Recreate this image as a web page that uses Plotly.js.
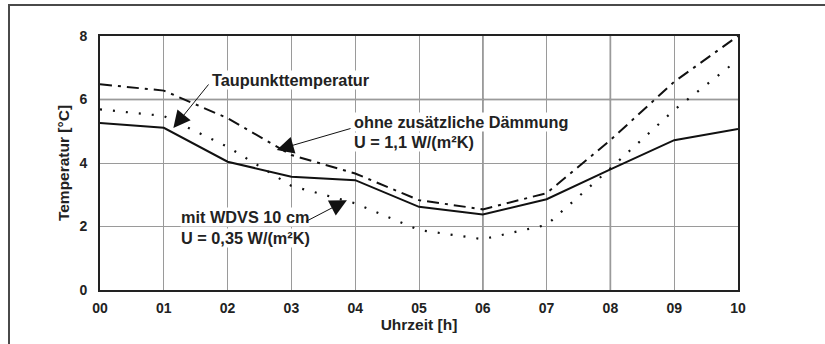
<!DOCTYPE html>
<html><head><meta charset="utf-8">
<script src="https://cdn.plot.ly/plotly-3.0.1.min.js"></script>
<style>html,body{margin:0;padding:0;background:#fff;overflow:hidden}
#frame{position:absolute;left:8px;top:4px;width:840px;height:360px;border:2px solid #4a4a4a;pointer-events:none;z-index:5}
#chart{position:absolute;left:0;top:0;width:825px;height:344px}</style>
</head><body>
<div id="chart"></div><div id="frame"></div>
<script>
const hours = [0,1,2,3,4,5,6,7,8,9,10];
const hourLabels = ['00','01','02','03','04','05','06','07','08','09','10'];
const taupunkt = [5.26,5.11,4.04,3.57,3.46,2.62,2.38,2.86,3.80,4.72,5.07];
const ohneDaemmung = [6.48,6.28,5.41,4.25,3.67,2.83,2.54,3.05,4.72,6.56,8.0];
const mitWDVS = [5.69,5.48,4.51,3.28,2.73,1.89,1.60,2.05,3.83,5.67,7.25];
const yTicks = [0,2,4,6,8];

const FAM = '"Liberation Sans", Arial, sans-serif';
const FT = {family:FAM, size:14, color:'#222', weight:'bold'};
const FA = {family:FAM, size:15.5, color:'#222', weight:'bold'};
const FN = {family:FAM, size:16.3, color:'#222', weight:'bold'};
const traces = [
 {x:hours,y:taupunkt,mode:'lines',line:{color:'#111',width:2},name:'Taupunkttemperatur'},
 {x:hours,y:ohneDaemmung,mode:'lines',line:{color:'#111',width:2,dash:'12px,6px,3px,6px'},name:'ohne'},
 {x:hours,y:mitWDVS,mode:'lines',line:{color:'#111',width:2.2,dash:'2px,11px'},name:'mit'}
];
function txt(x,y,t){return {x:x,y:y,xref:'x',yref:'y',text:t,showarrow:false,xanchor:'left',yanchor:'middle',font:FN,bgcolor:'#fff',borderpad:0};}
function arr(x,y,ax,ay){return {x:x,y:y,xref:'x',yref:'y',axref:'x',ayref:'y',ax:ax,ay:ay,text:'',showarrow:true,arrowhead:2,arrowsize:3.4,arrowwidth:1,arrowcolor:'#111'};}
function vline(x){return {type:'line',xref:'x',yref:'paper',x0:x,x1:x,y0:0,y1:1,line:{color:'#666',width:1.5},layer:'below'};}
function hline(y){return {type:'line',xref:'paper',yref:'y',x0:0,x1:1,y0:y,y1:y,line:{color:'#666',width:1.5},layer:'below'};}
const layout = {
 width:825,height:344,
 margin:{l:100,r:87,t:36,b:54},
 paper_bgcolor:'#fff',plot_bgcolor:'#fff',showlegend:false,
 font:FT,
 xaxis:{range:[0,10],tickvals:hours,ticktext:hourLabels,showgrid:true,gridcolor:'#9a9a9a',gridwidth:1,
   showline:true,mirror:true,linecolor:'#222',linewidth:2,ticks:'outside',ticklen:4,tickcolor:'rgba(0,0,0,0)',zeroline:false,tickfont:FT,
   title:{text:'Uhrzeit [h]',font:FA,standoff:2}},
 yaxis:{range:[0,8],tickvals:yTicks,showgrid:true,gridcolor:'#9a9a9a',gridwidth:1,
   showline:true,mirror:true,linecolor:'#222',linewidth:2,ticks:'outside',ticklen:8,tickcolor:'rgba(0,0,0,0)',zeroline:false,tickfont:FT,
   title:{text:'Temperatur [°C]',font:FA,standoff:6}},
 shapes:[vline(6),vline(8),hline(6)],
 annotations:[
  txt(1.74,6.61,'Taupunkttemperatur'),
  txt(3.97,5.29,'ohne zusätzliche Dämmung'),
  txt(3.97,4.66,'U = 1,1 W/(m²K)'),
  txt(1.25,2.30,'mit WDVS 10 cm'),
  txt(1.25,1.64,'U = 0,35 W/(m²K)'),
  arr(1.15,5.1,1.72,6.52),
  arr(2.77,4.41,3.95,5.1),
  arr(3.87,2.83,3.21,2.14)
 ]
};
Plotly.newPlot('chart',traces,layout,{staticPlot:true});
</script>
</body></html>
